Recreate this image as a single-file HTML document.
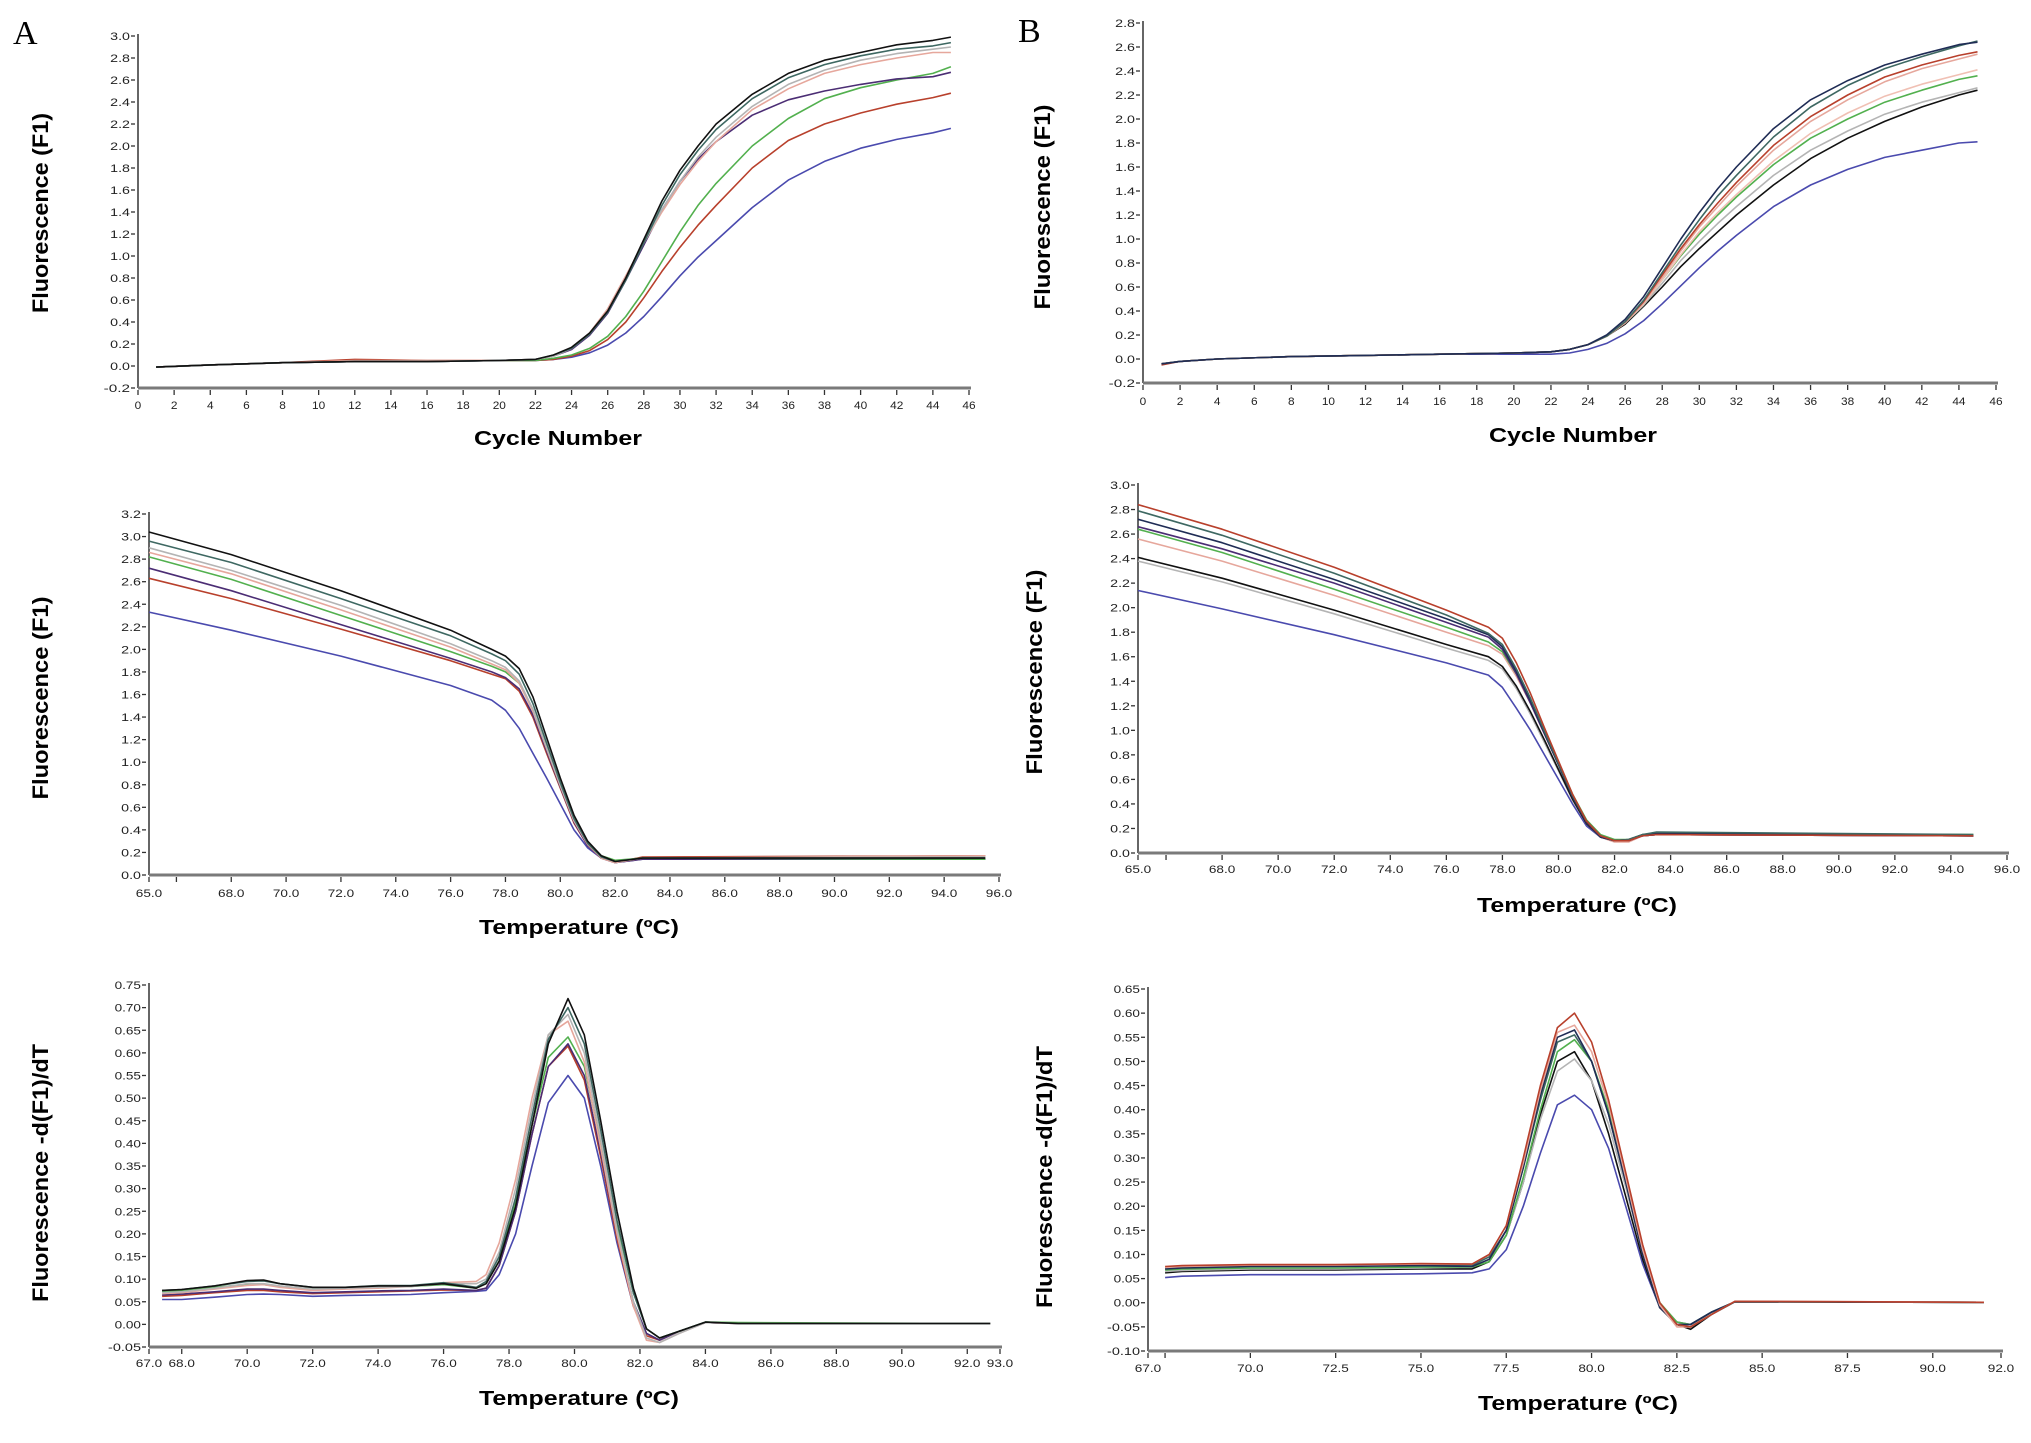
<!DOCTYPE html>
<html><head><meta charset="utf-8"><style>
html,body{margin:0;padding:0;background:#fff;}
svg{display:block;}
</style></head><body>
<svg id="fig" width="2031" height="1443" viewBox="0 0 2031 1443" xmlns="http://www.w3.org/2000/svg">
<rect width="2031" height="1443" fill="#fff"/>
<text x="13" y="44" font-family="Liberation Serif, serif" font-size="34">A</text>
<text x="1018" y="42" font-family="Liberation Serif, serif" font-size="34">B</text>
</svg>
<script>
// ---------- data ----------
const colors = {black:'#111111',slate:'#3e6862',lgray:'#b4b4b4',pink:'#e6a79c',green:'#52b04e',purple:'#4b2d74',red:'#b8402c',blue:'#4a4aae',navy:'#1f2c55',lpink:'#f0c0b4'};

const a1Cycles = [1,4,8,12,16,20,22,23,24,25,26,27,28,29,30,31,32,34,36,38,40,42,44,45];
const a1Black  = [-0.01,0.01,0.03,0.04,0.04,0.05,0.06,0.1,0.17,0.3,0.5,0.8,1.15,1.5,1.78,2.0,2.2,2.47,2.66,2.78,2.85,2.92,2.96,2.99];
const a1Slate  = [-0.01,0.01,0.03,0.04,0.04,0.05,0.06,0.1,0.16,0.29,0.49,0.78,1.12,1.46,1.74,1.96,2.15,2.43,2.62,2.74,2.82,2.88,2.91,2.94];
const a1Lgray  = [-0.01,0.01,0.03,0.04,0.04,0.05,0.06,0.09,0.16,0.29,0.5,0.8,1.12,1.42,1.68,1.9,2.08,2.36,2.56,2.69,2.78,2.84,2.88,2.90];
const a1Pink   = [-0.01,0.01,0.03,0.05,0.05,0.05,0.06,0.09,0.16,0.3,0.52,0.82,1.12,1.4,1.65,1.86,2.04,2.33,2.52,2.66,2.74,2.8,2.85,2.85];
const a1Purple = [-0.01,0.01,0.03,0.04,0.04,0.05,0.06,0.09,0.15,0.28,0.48,0.78,1.1,1.42,1.68,1.88,2.04,2.28,2.42,2.5,2.56,2.61,2.63,2.67];
const a1Green  = [-0.01,0.01,0.03,0.04,0.04,0.05,0.05,0.07,0.1,0.16,0.27,0.45,0.68,0.95,1.22,1.46,1.66,2.0,2.25,2.43,2.53,2.6,2.66,2.72];
const a1Red    = [-0.01,0.01,0.03,0.06,0.05,0.05,0.05,0.06,0.09,0.14,0.24,0.4,0.62,0.86,1.08,1.28,1.46,1.8,2.05,2.2,2.3,2.38,2.44,2.48];
const a1Blue   = [-0.01,0.01,0.03,0.04,0.04,0.05,0.05,0.06,0.08,0.12,0.19,0.3,0.45,0.63,0.82,0.99,1.14,1.44,1.69,1.86,1.98,2.06,2.12,2.16];

const a2Temps  = [65,68,72,76,77.5,78,78.5,79,79.5,80,80.5,81,81.5,82,83,95.5];
const a2Black  = [3.04,2.84,2.52,2.17,2.0,1.94,1.83,1.58,1.22,0.86,0.53,0.3,0.17,0.12,0.15,0.15];
const a2Slate  = [2.96,2.77,2.45,2.12,1.96,1.9,1.78,1.52,1.17,0.82,0.5,0.28,0.16,0.12,0.15,0.15];
const a2Lgray  = [2.9,2.7,2.39,2.05,1.9,1.84,1.72,1.47,1.13,0.8,0.49,0.28,0.16,0.12,0.15,0.16];
const a2Pink   = [2.86,2.67,2.35,2.02,1.87,1.82,1.7,1.45,1.12,0.79,0.48,0.27,0.15,0.11,0.15,0.17];
const a2Green  = [2.82,2.62,2.3,1.98,1.85,1.8,1.7,1.46,1.14,0.82,0.5,0.29,0.17,0.13,0.15,0.14];
const a2Purple = [2.72,2.52,2.22,1.92,1.8,1.75,1.65,1.42,1.1,0.78,0.47,0.26,0.15,0.11,0.14,0.14];
const a2Red    = [2.63,2.45,2.18,1.9,1.78,1.74,1.63,1.4,1.08,0.77,0.46,0.26,0.15,0.11,0.16,0.17];
const a2Blue   = [2.33,2.17,1.94,1.68,1.55,1.46,1.3,1.08,0.86,0.63,0.4,0.24,0.15,0.11,0.14,0.14];

const a3Temps  = [67.4,68,69,70,70.5,71,72,73,74,75,76,77,77.3,77.7,78.2,78.7,79.2,79.8,80.3,80.8,81.3,81.8,82.2,82.6,83.2,84,85,92.7];
const a3Black  = [0.075,0.077,0.085,0.097,0.098,0.09,0.082,0.082,0.085,0.085,0.09,0.08,0.09,0.14,0.26,0.44,0.62,0.72,0.64,0.45,0.25,0.08,-0.01,-0.03,-0.015,0.005,0.002,0.002];
const a3Slate  = [0.075,0.077,0.085,0.095,0.096,0.09,0.082,0.082,0.086,0.086,0.092,0.082,0.095,0.15,0.28,0.46,0.63,0.70,0.62,0.43,0.23,0.07,-0.01,-0.03,-0.015,0.005,0.002,0.002];
const a3Lgray  = [0.07,0.072,0.08,0.09,0.09,0.085,0.078,0.08,0.082,0.084,0.09,0.09,0.1,0.16,0.3,0.48,0.64,0.685,0.6,0.41,0.21,0.05,-0.03,-0.04,-0.02,0.004,0.002,0.002];
const a3Pink   = [0.068,0.07,0.078,0.086,0.088,0.082,0.075,0.078,0.08,0.084,0.092,0.095,0.11,0.18,0.32,0.5,0.64,0.67,0.58,0.39,0.2,0.04,-0.035,-0.04,-0.02,0.004,0.002,0.002];
const a3Green  = [0.073,0.075,0.082,0.088,0.088,0.084,0.078,0.08,0.084,0.084,0.088,0.08,0.09,0.14,0.27,0.44,0.59,0.635,0.57,0.40,0.22,0.07,-0.01,-0.03,-0.015,0.005,0.004,0.002];
const a3Purple = [0.065,0.067,0.072,0.078,0.078,0.075,0.07,0.072,0.074,0.075,0.078,0.075,0.08,0.13,0.25,0.42,0.57,0.62,0.55,0.38,0.2,0.05,-0.02,-0.035,-0.015,0.004,0.002,0.002];
const a3Red    = [0.062,0.064,0.07,0.075,0.075,0.072,0.068,0.07,0.072,0.074,0.076,0.075,0.08,0.13,0.25,0.42,0.57,0.615,0.54,0.37,0.19,0.04,-0.025,-0.035,-0.015,0.004,0.002,0.002];
const a3Blue   = [0.055,0.055,0.06,0.066,0.067,0.066,0.062,0.064,0.065,0.066,0.07,0.073,0.075,0.11,0.2,0.35,0.49,0.55,0.5,0.35,0.18,0.04,-0.02,-0.035,-0.015,0.004,0.002,0.002];

const b1Cycles = [1,2,4,8,12,16,20,22,23,24,25,26,27,28,29,30,31,32,34,36,38,40,42,44,45];
const b1Navy   = [-0.04,-0.02,0,0.02,0.03,0.04,0.05,0.06,0.08,0.12,0.2,0.33,0.52,0.76,1.0,1.22,1.42,1.6,1.92,2.16,2.32,2.45,2.54,2.62,2.64];
const b1Slate  = [-0.04,-0.02,0,0.02,0.03,0.04,0.05,0.06,0.08,0.12,0.19,0.31,0.49,0.72,0.95,1.16,1.36,1.53,1.85,2.1,2.28,2.42,2.52,2.61,2.65];
const b1Red    = [-0.05,-0.02,0,0.02,0.03,0.04,0.05,0.06,0.08,0.12,0.19,0.31,0.48,0.7,0.92,1.12,1.3,1.47,1.78,2.02,2.2,2.35,2.45,2.53,2.56];
const b1Pink   = [-0.04,-0.02,0,0.02,0.03,0.04,0.05,0.06,0.08,0.12,0.19,0.3,0.47,0.68,0.9,1.1,1.27,1.44,1.74,1.98,2.16,2.31,2.42,2.5,2.54];
const b1Lpink  = [-0.04,-0.02,0,0.02,0.03,0.04,0.05,0.06,0.08,0.12,0.19,0.3,0.46,0.66,0.87,1.06,1.22,1.37,1.65,1.88,2.05,2.19,2.29,2.37,2.41];
const b1Green  = [-0.04,-0.02,0,0.02,0.03,0.04,0.05,0.06,0.08,0.12,0.19,0.3,0.46,0.66,0.86,1.04,1.2,1.35,1.62,1.84,2.0,2.14,2.24,2.33,2.36];
const b1Lgray  = [-0.04,-0.02,0,0.02,0.03,0.04,0.05,0.06,0.08,0.12,0.19,0.3,0.45,0.63,0.82,0.98,1.13,1.27,1.53,1.74,1.9,2.04,2.14,2.22,2.26];
const b1Black  = [-0.04,-0.02,0,0.02,0.03,0.04,0.05,0.06,0.08,0.12,0.19,0.29,0.44,0.6,0.77,0.92,1.06,1.2,1.45,1.67,1.84,1.98,2.1,2.2,2.24];
const b1Blue   = [-0.04,-0.02,0,0.02,0.03,0.04,0.04,0.04,0.05,0.08,0.13,0.21,0.32,0.46,0.61,0.76,0.9,1.03,1.27,1.45,1.58,1.68,1.74,1.8,1.81];

const b2Temps  = [65,68,72,76,77.5,78,78.5,79,79.5,80,80.5,81,81.5,82,82.5,83,83.5,94.8];
const b2Red    = [2.84,2.64,2.33,1.98,1.84,1.75,1.55,1.3,1.02,0.75,0.48,0.26,0.14,0.1,0.1,0.14,0.15,0.14];
const b2Slate  = [2.79,2.59,2.28,1.94,1.79,1.7,1.5,1.26,0.99,0.73,0.47,0.26,0.14,0.1,0.11,0.15,0.17,0.15];
const b2Navy   = [2.72,2.53,2.23,1.91,1.78,1.68,1.48,1.24,0.98,0.72,0.46,0.25,0.13,0.1,0.11,0.15,0.16,0.14];
const b2Purple = [2.66,2.48,2.2,1.88,1.76,1.66,1.46,1.22,0.97,0.72,0.46,0.25,0.13,0.1,0.1,0.14,0.15,0.14];
const b2Green  = [2.64,2.45,2.15,1.84,1.72,1.64,1.46,1.24,0.99,0.74,0.48,0.27,0.15,0.11,0.11,0.15,0.16,0.15];
const b2Pink   = [2.56,2.38,2.1,1.8,1.69,1.62,1.44,1.22,0.97,0.72,0.46,0.25,0.13,0.09,0.09,0.14,0.15,0.14];
const b2Black  = [2.41,2.24,1.98,1.7,1.6,1.52,1.36,1.15,0.92,0.68,0.44,0.24,0.13,0.1,0.1,0.14,0.15,0.14];
const b2Lgray  = [2.38,2.21,1.95,1.67,1.57,1.5,1.34,1.13,0.9,0.67,0.43,0.24,0.13,0.1,0.1,0.14,0.15,0.14];
const b2Blue   = [2.14,1.99,1.78,1.55,1.45,1.35,1.18,1.0,0.8,0.6,0.4,0.22,0.13,0.1,0.1,0.14,0.15,0.14];

const b3Temps  = [67.5,68,70,72.5,75,76.5,77,77.5,78,78.5,79,79.5,80,80.5,81,81.5,82,82.5,82.9,83.5,84.2,91.5];
const b3Red    = [0.075,0.077,0.079,0.079,0.081,0.08,0.1,0.16,0.3,0.45,0.57,0.6,0.54,0.42,0.27,0.12,0.0,-0.045,-0.05,-0.025,0.003,0.001];
const b3Pink   = [0.073,0.075,0.078,0.078,0.08,0.08,0.1,0.16,0.29,0.44,0.56,0.575,0.52,0.41,0.26,0.11,-0.005,-0.05,-0.05,-0.025,0.003,0.001];
const b3Navy   = [0.07,0.072,0.075,0.075,0.077,0.075,0.09,0.15,0.28,0.43,0.55,0.565,0.5,0.39,0.25,0.1,-0.01,-0.045,-0.045,-0.02,0.002,0.001];
const b3Slate  = [0.072,0.073,0.076,0.076,0.078,0.078,0.095,0.15,0.28,0.42,0.54,0.555,0.5,0.39,0.25,0.1,-0.01,-0.045,-0.045,-0.02,0.002,0.001];
const b3Green  = [0.068,0.07,0.072,0.072,0.074,0.074,0.085,0.14,0.26,0.4,0.52,0.545,0.5,0.4,0.26,0.11,0.0,-0.04,-0.045,-0.02,0.002,0.001];
const b3Lgray  = [0.065,0.067,0.07,0.07,0.072,0.074,0.09,0.14,0.25,0.38,0.48,0.505,0.46,0.37,0.24,0.1,-0.01,-0.045,-0.05,-0.02,0.002,0.001];
const b3Black  = [0.062,0.065,0.068,0.068,0.07,0.07,0.085,0.14,0.25,0.39,0.5,0.52,0.46,0.35,0.22,0.09,-0.01,-0.045,-0.055,-0.025,0.002,0.001];
const b3Blue   = [0.052,0.055,0.058,0.058,0.06,0.062,0.07,0.11,0.2,0.31,0.41,0.43,0.4,0.32,0.2,0.08,-0.01,-0.04,-0.045,-0.02,0.002,0.001];

const a1YTicks = [-0.2,0,0.2,0.4,0.6,0.8,1.0,1.2,1.4,1.6,1.8,2.0,2.2,2.4,2.6,2.8,3.0];
const a1XTicks = [0,2,4,6,8,10,12,14,16,18,20,22,24,26,28,30,32,34,36,38,40,42,44,46];
const a2YTicks = [0,0.2,0.4,0.6,0.8,1.0,1.2,1.4,1.6,1.8,2.0,2.2,2.4,2.6,2.8,3.0,3.2];
const a2XTicks = [65,68,70,72,74,76,78,80,82,84,86,88,90,92,94,96];
const a3YTicks = [-0.05,0,0.05,0.1,0.15,0.2,0.25,0.3,0.35,0.4,0.45,0.5,0.55,0.6,0.65,0.7,0.75];
const a3XTicks = [67,68,70,72,74,76,78,80,82,84,86,88,90,92,93];
const b1YTicks = [-0.2,0,0.2,0.4,0.6,0.8,1.0,1.2,1.4,1.6,1.8,2.0,2.2,2.4,2.6,2.8];
const b1XTicks = [0,2,4,6,8,10,12,14,16,18,20,22,24,26,28,30,32,34,36,38,40,42,44,46];
const b2YTicks = [0,0.2,0.4,0.6,0.8,1.0,1.2,1.4,1.6,1.8,2.0,2.2,2.4,2.6,2.8,3.0];
const b2XTicks = [65,68,70,72,74,76,78,80,82,84,86,88,90,92,94,96];
const b3YTicks = [-0.1,-0.05,0,0.05,0.1,0.15,0.2,0.25,0.3,0.35,0.4,0.45,0.5,0.55,0.6,0.65];
const b3XTicks = [67,70,72.5,75,77.5,80,82.5,85,87.5,90,92];

// ---------- drawing ----------
const NS='http://www.w3.org/2000/svg';
const svg=document.getElementById('fig');
function mk(tag,attrs,parent){const e=document.createElementNS(NS,tag);for(const k in attrs)e.setAttribute(k,attrs[k]);(parent||svg).appendChild(e);return e;}

function panel(id,g,xs,series,yTicks,xTicks,yDec,xDec,minorX,xTitle,yTitle,yTitleLen){
  const grp=mk('g',{});
  
  
  const sx=v=>g.x0+(v-g.xmin)/(g.xmax-g.xmin)*(g.x1-g.x0);
  const sy=v=>g.yb+(v-g.ymin)/(g.ymax-g.ymin)*(g.yt-g.yb);
  const ya=mk('line',{x1:g.x0,y1:g.yt-2,x2:g.x0,y2:g.yb,stroke:'#333','stroke-width':1.5},grp);
  
  
  yTicks.forEach(v=>{
    const y=sy(v);
    mk('line',{x1:g.x0-7,y1:y,x2:g.x0-3,y2:y,stroke:'#333','stroke-width':1.3},grp);
    const s=v.toFixed(yDec);
    const t=mk('text',{x:g.x0-8,y:y+4,'text-anchor':'end','font-family':'Liberation Sans, sans-serif','font-size':11,textLength:s.length*6.6,lengthAdjust:'spacingAndGlyphs',fill:'#222'},grp);
    t.textContent=s;
    
    
  });
  const xa=mk('line',{x1:g.x0,y1:g.yb,x2:g.x1+2,y2:g.yb,stroke:'#7a7a7a','stroke-width':3},grp);
  
  
  xTicks.forEach(v=>{
    const x=sx(v);
    mk('line',{x1:x,y1:g.yb+2,x2:x,y2:g.yb+7,stroke:'#333','stroke-width':1.3},grp);
    const s=v.toFixed(xDec);
    const t=mk('text',{x:x,y:g.ly+4,'text-anchor':'middle','font-family':'Liberation Sans, sans-serif','font-size':11,textLength:s.length*6.6,lengthAdjust:'spacingAndGlyphs',fill:'#222'},grp);
    t.textContent=s;
    
    
  });
  if(minorX!==null){const x=sx(minorX);mk('line',{x1:x,y1:g.yb+2,x2:x,y2:g.yb+7,stroke:'#333','stroke-width':1.3},grp);}
  const xt=mk('text',{x:g.tx,y:g.ty+7,'text-anchor':'middle','font-family':'Liberation Sans, sans-serif','font-size':20,'font-weight':'bold',textLength:xTitle.startsWith('C')?168:200,lengthAdjust:'spacingAndGlyphs'},grp);
  xt.textContent=xTitle;
  
  
  const yt=mk('text',{x:0,y:0,transform:`translate(${g.ytx+8},${g.yty}) rotate(-90)`,'text-anchor':'middle','font-family':'Liberation Sans, sans-serif','font-size':22,'font-weight':'bold',textLength:yTitleLen,lengthAdjust:'spacingAndGlyphs'},grp);
  yt.textContent=yTitle;
  
  
  series.forEach(([name,vals])=>{
    const pts=xs.map((x,i)=>sx(x).toFixed(1)+','+sy(vals[i]).toFixed(1)).join(' ');
    const pl=mk('polyline',{points:pts,fill:'none',stroke:colors[name],'stroke-width':1.6,'stroke-linejoin':'round'},grp);
    
    
  });
}

panel('a1',{x0:138,x1:969,xmin:0,xmax:46,yb:388,yt:36,ymin:-0.2,ymax:3.0,ly:405,tx:558,ty:438,ytx:40,yty:213},
  a1Cycles,[['blue',a1Blue],['red',a1Red],['green',a1Green],['purple',a1Purple],['pink',a1Pink],['lgray',a1Lgray],['slate',a1Slate],['black',a1Black]],
  a1YTicks,a1XTicks,1,0,null,'Cycle Number','Fluorescence (F1)',200);
panel('a2',{x0:149,x1:999,xmin:65,xmax:96,yb:875,yt:514,ymin:0,ymax:3.2,ly:893,tx:579,ty:927,ytx:40,yty:698},
  a2Temps,[['blue',a2Blue],['red',a2Red],['purple',a2Purple],['green',a2Green],['pink',a2Pink],['lgray',a2Lgray],['slate',a2Slate],['black',a2Black]],
  a2YTicks,a2XTicks,1,1,66,'Temperature (\u00baC)','Fluorescence (F1)',203);
panel('a3',{x0:149,x1:1000,xmin:67,xmax:93,yb:1347,yt:985,ymin:-0.05,ymax:0.75,ly:1363,tx:579,ty:1398,ytx:40,yty:1173},
  a3Temps,[['blue',a3Blue],['red',a3Red],['purple',a3Purple],['green',a3Green],['pink',a3Pink],['lgray',a3Lgray],['slate',a3Slate],['black',a3Black]],
  a3YTicks,a3XTicks,2,1,null,'Temperature (\u00baC)','Fluorescence -d(F1)/dT',258);
panel('b1',{x0:1143,x1:1996,xmin:0,xmax:46,yb:383,yt:23,ymin:-0.2,ymax:2.8,ly:401,tx:1573,ty:435,ytx:1042,yty:207},
  b1Cycles,[['blue',b1Blue],['black',b1Black],['lgray',b1Lgray],['green',b1Green],['lpink',b1Lpink],['pink',b1Pink],['red',b1Red],['slate',b1Slate],['navy',b1Navy]],
  b1YTicks,b1XTicks,1,0,null,'Cycle Number','Fluorescence (F1)',205);
panel('b2',{x0:1138,x1:2007,xmin:65,xmax:96,yb:853,yt:485,ymin:0,ymax:3.0,ly:869,tx:1577,ty:905,ytx:1034,yty:672},
  b2Temps,[['blue',b2Blue],['lgray',b2Lgray],['black',b2Black],['pink',b2Pink],['green',b2Green],['purple',b2Purple],['navy',b2Navy],['slate',b2Slate],['red',b2Red]],
  b2YTicks,b2XTicks,1,1,66,'Temperature (\u00baC)','Fluorescence (F1)',205);
panel('b3',{x0:1148,x1:2001,xmin:67,xmax:92,yb:1351,yt:989,ymin:-0.1,ymax:0.65,ly:1368,tx:1578,ty:1403,ytx:1044,yty:1177},
  b3Temps,[['blue',b3Blue],['black',b3Black],['lgray',b3Lgray],['green',b3Green],['slate',b3Slate],['navy',b3Navy],['pink',b3Pink],['red',b3Red]],
  b3YTicks,b3XTicks,2,1,67.5,'Temperature (\u00baC)','Fluorescence -d(F1)/dT',262);
</script>
</body></html>
